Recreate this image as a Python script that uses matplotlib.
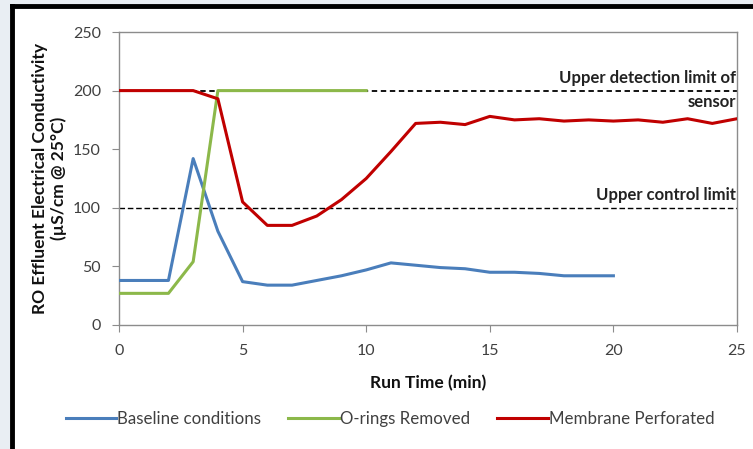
import matplotlib
matplotlib.use("Agg")
import matplotlib.pyplot as plt
from matplotlib.patches import Rectangle
from matplotlib.lines import Line2D

plt.rcParams['font.family'] = ['Lato', 'DejaVu Sans']

# Data
base_x = [0, 1, 2, 3, 4, 5, 6, 7, 8, 9, 10, 11, 12, 13, 14, 15, 16, 17, 18, 19, 20]
base_y = [38, 38, 38, 142, 80, 37, 34, 34, 38, 42, 47, 53, 51, 49, 48, 45, 45, 44, 42, 42, 42]

oring_x = [0, 1, 2, 3, 4, 5, 6, 7, 8, 9, 10]
oring_y = [27, 27, 27, 54, 200, 200, 200, 200, 200, 200, 200]

memb_x = [0, 1, 2, 3, 4, 5, 6, 7, 8, 9, 10, 11, 12, 13, 14, 15, 16, 17, 18, 19, 20, 21, 22, 23, 24, 25]
memb_y = [200, 200, 200, 200, 193, 105, 85, 85, 93, 107, 125, 148, 172, 173, 171, 178, 175, 176, 174, 175, 174, 175, 173, 176, 172, 176]

detection_limit = 200
control_limit = 100

xticks = [0, 5, 10, 15, 20, 25]
yticks = [0, 50, 100, 150, 200, 250]

fig = plt.figure(figsize=(7.53, 4.49), dpi=100, facecolor='#e9eef3')
# white panel with black top/left border
fig.patches.append(Rectangle((12/753, 0), 1 - 12/753, 1 - 6/449, transform=fig.transFigure,
                             facecolor='white', edgecolor='none', zorder=-5))
fig.lines.append(Line2D([12/753, 12/753], [0, 1 - 6/449], transform=fig.transFigure, color='black', lw=3.5, zorder=-4))
fig.lines.append(Line2D([12/753, 1], [1 - 6/449, 1 - 6/449], transform=fig.transFigure, color='black', lw=3.5, zorder=-4))

ax = fig.add_axes([119/753, 1 - 325/449, (737 - 119)/753, (325 - 32)/449])
ax.set_zorder(2)
ax.set_facecolor('white')

ax.axhline(detection_limit, color='black', lw=1.3, ls=(0, (3, 2)), zorder=1)
ax.axhline(control_limit, color='black', lw=1.0, ls=(0, (4, 2)), zorder=1)

ax.plot(base_x, base_y, color='#4a7ebb', lw=2.2, label='Baseline conditions', zorder=3)
ax.plot(oring_x, oring_y, color='#8cb84a', lw=2.2, label='O-rings Removed', zorder=3)
ax.plot(memb_x, memb_y, color='#c00000', lw=2.2, label='Membrane Perforated', zorder=3)

ax.text(24.95, 204, 'Upper detection limit of', ha='right', va='bottom', fontsize=12, fontweight='bold', color='#222222')
ax.text(24.95, 197, 'sensor', ha='right', va='top', fontsize=12, fontweight='bold', color='#222222')
ax.text(24.95, 104, 'Upper control limit', ha='right', va='bottom', fontsize=12, fontweight='bold', color='#222222')

ax.set_xlim(0, 25)
ax.set_ylim(0, 250)
ax.set_xticks(xticks)
ax.set_yticks(yticks)
for s in ax.spines.values():
    s.set_color('#8c8c8c')
    s.set_linewidth(1.0)
ax.tick_params(axis='both', colors='#8c8c8c', labelcolor='#404040', labelsize=11.5, length=5, direction='out')
ax.tick_params(axis='y', pad=8)
ax.tick_params(axis='x', pad=9)

ax.set_xlabel('Run Time (min)', fontsize=12.5, fontweight='bold', color='#111111', labelpad=12)
ax.set_ylabel('RO Effluent Electrical Conductivity\n(µS/cm @ 25°C)', fontsize=12.5, fontweight='bold',
              color='#111111', labelpad=4)

leg = fig.legend(loc='center', bbox_to_anchor=(0.518, 1 - 419/449), ncol=3, frameon=False,
                 fontsize=12.2, handlelength=3.0, handletextpad=0.05, columnspacing=1.6)
for t in leg.get_texts():
    t.set_color('#404040')

fig.savefig('out.png', dpi=100, facecolor=fig.get_facecolor())
